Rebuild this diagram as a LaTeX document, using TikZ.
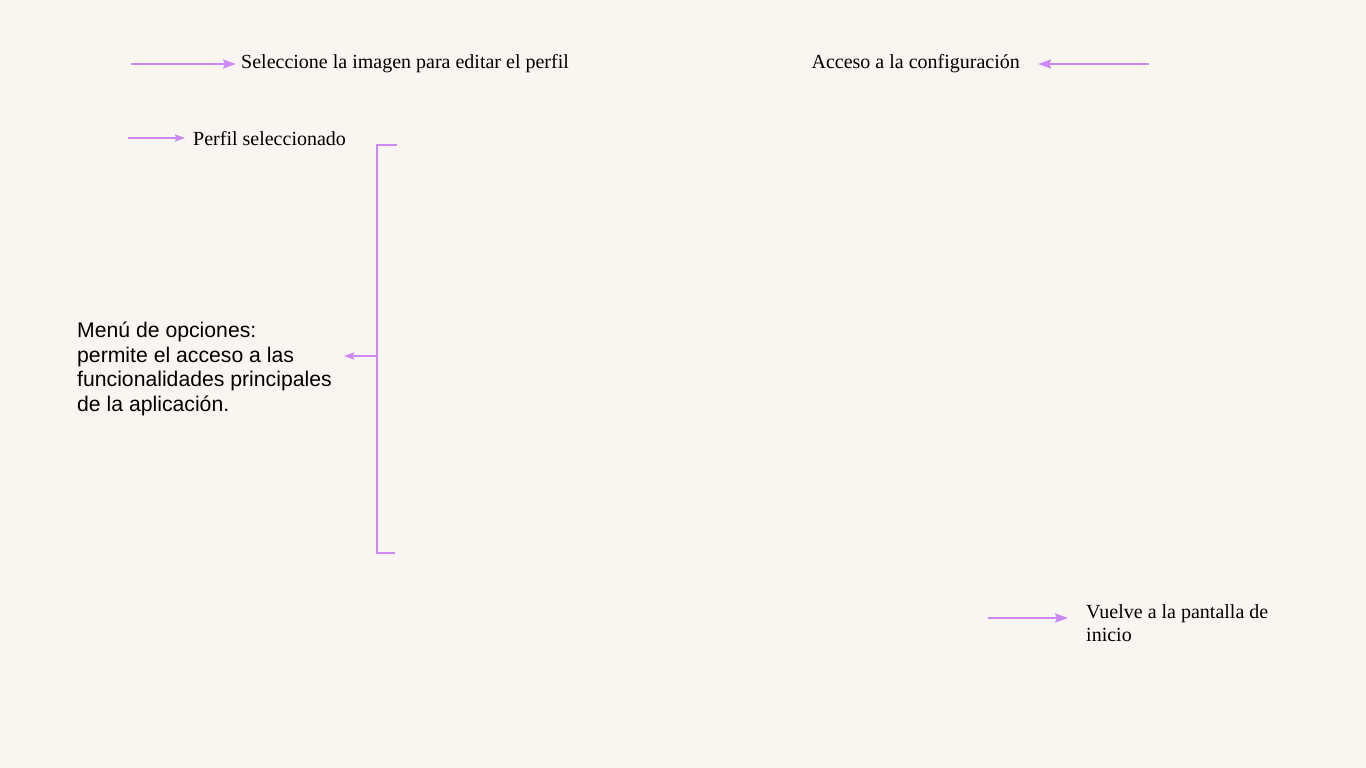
\documentclass[tikz,border=0pt]{standalone}
\usepackage{fontspec}
\setmainfont{Liberation Serif}
\newfontfamily\menufont{Liberation Sans}
\usetikzlibrary{arrows.meta}
\definecolor{bg}{RGB}{249,245,240}
\definecolor{violet}{RGB}{206,136,244}
\tikzset{
  conn/.style={draw=violet, line width=2.4pt, -{Stealth[length=13pt,width=9pt,inset=2pt]}},
  connsmall/.style={draw=violet, line width=2.4pt, -{Stealth[length=10pt,width=7pt,inset=1.5pt]}},
  brk/.style={draw=violet, line width=2.4pt},
  lbl/.style={inner sep=0pt, anchor=base west, font=\fontsize{20}{23}\selectfont, align=left},
  menulbl/.style={inner sep=0pt, anchor=base west, font=\menufont\fontsize{21.2}{24.4}\selectfont, align=left}
}
\begin{document}
\begin{tikzpicture}[x=1pt,y=-1pt]
\fill[bg] (0,0) rectangle (1366,768);
\useasboundingbox (0,0) rectangle (1366,768);

% labels
\node[lbl] (sel) at (241,69) {Seleccione la imagen para editar el perfil};
\node[lbl,anchor=base east] (acc) at (1020,69) {Acceso a la configuración};
\node[lbl] (per) at (193,145) {Perfil seleccionado};
\node[lbl] (vu) at (1086,641) {Vuelve a la pantalla de\\inicio};
\node[menulbl] (menu) at (77,411) {Menú de opciones:\\permite el acceso a las\\funcionalidades principales\\de la aplicación.};

% coordinates
\coordinate (s1) at (131,64);
\coordinate (s2) at (1149,64);
\coordinate (s3) at (128,138);
\coordinate (s5) at (988,618);
\coordinate (btop) at (397,145);
\coordinate (btl) at (377,145);
\coordinate (bbl) at (377,553);
\coordinate (bbot) at (395,553);
\coordinate (bmid) at (377,356);
\coordinate (mtip) at (344,356);

% connectors
\draw[conn, shorten >=5pt] (s1) -- (s1 -| sel.west);
\draw[conn, shorten >=18pt] (s2) -- (s2 -| acc.east);
\draw[connsmall, shorten >=8pt] (s3) -- (s3 -| per.west);
\draw[conn, shorten >=18pt] (s5) -- (s5 -| vu.west);
\draw[brk] (btop) -- (btl) -- (bbl) -- (bbot);
\draw[connsmall] (bmid) -- (mtip);
\end{tikzpicture}
\end{document}
